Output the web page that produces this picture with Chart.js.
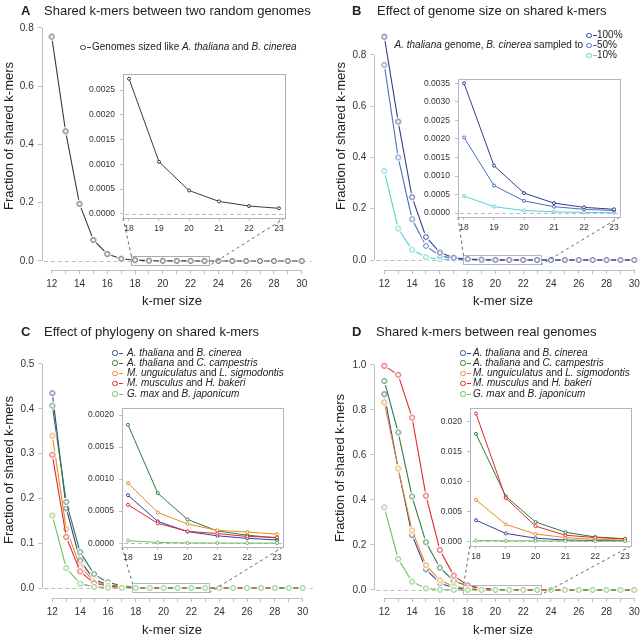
<!DOCTYPE html>
<html>
<head>
<meta charset="utf-8">
<script src="https://cdn.jsdelivr.net/npm/chart.js@4"></script>
<style>
  body { margin: 0; background: #fff; }
  #page { position: relative; width: 642px; height: 636px; overflow: hidden;
          font-family: "Liberation Sans", Arial, sans-serif; color: #222; }
  canvas { position: absolute; }
  .t { position: absolute; white-space: nowrap; font-size: 13px; line-height: 13px; }
  .ytitle { transform: translate(-50%, -50%) rotate(-90deg); }
  .xtitle { transform: translate(-50%, -50%); }
  .lg { position: absolute; white-space: nowrap; font-size: 10px; line-height: 10px; }
  .mk { position: absolute; width: 11px; height: 6px; }
  .mk::before { content: ""; position: absolute; left: 0; top: 0; width: 3.5px; height: 3.5px;
                border: 1px solid currentColor; border-radius: 50%; }
  .mk::after { content: ""; position: absolute; left: 6.5px; top: 2.5px; width: 4px; height: 1px;
               background: currentColor; }
</style>
</head>
<body>
<div id="page">
  <canvas id="mainA"></canvas>
  <canvas id="mainB"></canvas>
  <canvas id="mainC"></canvas>
  <canvas id="mainD"></canvas>
  <canvas id="insetA"></canvas>
  <canvas id="insetB"></canvas>
  <canvas id="insetC"></canvas>
  <canvas id="insetD"></canvas>

  <div class="t" style="left:21px;top:3.5px"><b>A</b></div>
  <div class="t" style="left:44px;top:3.5px">Shared k-mers between two random genomes</div>
  <div class="t" style="left:352px;top:3.5px"><b>B</b></div>
  <div class="t" style="left:377px;top:3.5px">Effect of genome size on shared k-mers</div>
  <div class="t" style="left:21px;top:325px"><b>C</b></div>
  <div class="t" style="left:44px;top:325px">Effect of phylogeny on shared k-mers</div>
  <div class="t" style="left:352px;top:325px"><b>D</b></div>
  <div class="t" style="left:376px;top:325px">Shared k-mers between real genomes</div>

  <div class="t ytitle" style="left:8px;top:136px">Fraction of shared k-mers</div>
  <div class="t ytitle" style="left:340px;top:136px">Fraction of shared k-mers</div>
  <div class="t ytitle" style="left:8px;top:470px">Fraction of shared k-mers</div>
  <div class="t ytitle" style="left:339px;top:468px">Fraction of shared k-mers</div>

  <div class="t xtitle" style="left:172px;top:300px">k-mer size</div>
  <div class="t xtitle" style="left:503px;top:300px">k-mer size</div>
  <div class="t xtitle" style="left:172px;top:629px">k-mer size</div>
  <div class="t xtitle" style="left:503px;top:629px">k-mer size</div>
</div>

<script>
// =====================
// DATA
// =====================
const kSizes = [12, 13, 14, 15, 16, 17, 18, 19, 20, 21, 22, 23, 24, 25, 26, 27, 28, 29, 30];
const kZoom = [18, 19, 20, 21, 22, 23];

// A - random genomes
const randomLabel = "Genomes sized like <i>A. thaliana</i> and <i>B. cinerea</i>";
const randomGenomes = [0.770, 0.445, 0.196, 0.072, 0.024, 0.0078, 0.00273, 0.00105, 0.00047, 0.00025, 0.000156, 0.00011,
  0.00008, 0.00006, 0.00005, 0.00004, 0.00003, 0.00003, 0.00002];

// B - B. cinerea subsampled
const sampledNote = "<i>A. thaliana</i> genome, <i>B. cinerea</i> sampled to";
const sampledLabels = ["100%", "50%", "10%"];
const sampled100 = [0.871, 0.540, 0.245, 0.090, 0.029, 0.009, 0.0035, 0.00128, 0.00054, 0.00027, 0.000156, 0.000104,
  0.00007, 0.00005, 0.00004, 0.00003, 0.00002, 0.00002, 0.00001];
const sampled50 = [0.761, 0.400, 0.159, 0.055, 0.017, 0.0055, 0.00204, 0.000744, 0.00033, 0.000174, 0.000104, 0.00007,
  0.00005, 0.00004, 0.00003, 0.00002, 0.00002, 0.00001, 0.00001];
const sampled10 = [0.347, 0.123, 0.040, 0.011, 0.0035, 0.0012, 0.00046, 0.000174, 0.00007, 0.000035, 0.00002, 0.00001,
  0.00001, 0.00001, 0.000005, 0.000005, 0.000005, 0.000005, 0.000005];

// C / D - genome pairs
const pairLabels = [
  "<i>A. thaliana</i> and <i>B. cinerea</i>",
  "<i>A. thaliana</i> and <i>C. campestris</i>",
  "<i>M. unguiculatus</i> and <i>L. sigmodontis</i>",
  "<i>M. musculus</i> and <i>H. bakeri</i>",
  "<i>G. max</i> and <i>B. japonicum</i>"
];
const phyloBcin = [0.435, 0.178, 0.061, 0.019, 0.0072, 0.0028, 0.00075, 0.00034, 0.00018, 0.000115, 0.000075, 0.00005,
  0.00004, 0.00003, 0.00002, 0.00002, 0.00001, 0.00001, 0.00001];
const phyloCcam = [0.407, 0.192, 0.080, 0.031, 0.0126, 0.005, 0.00185, 0.00078, 0.00037, 0.00019, 0.000125, 0.00008,
  0.00006, 0.00004, 0.00003, 0.00003, 0.00002, 0.00002, 0.00001];
const phyloLsig = [0.340, 0.132, 0.048, 0.015, 0.006, 0.0025, 0.00094, 0.00048, 0.0003, 0.0002, 0.000175, 0.00014,
  0.00012, 0.0001, 0.00009, 0.00008, 0.00007, 0.00006, 0.00005];
const phyloHbak = [0.297, 0.114, 0.037, 0.011, 0.0045, 0.0016, 0.0006, 0.00031, 0.000185, 0.00015, 0.000105, 0.00009,
  0.00007, 0.00006, 0.00005, 0.00004, 0.00004, 0.00003, 0.00003];
const phyloBjap = [0.162, 0.0446, 0.0097, 0.0026, 0.0008, 0.0002, 0.00004, 0.00001, 0.000003, 0.000002, 0.000001, 0.000001,
  0, 0, 0, 0, 0, 0, 0];

const realBcin = [0.870, 0.540, 0.244, 0.092, 0.030, 0.010, 0.0035, 0.0013, 0.0005, 0.0002, 0.0001, 0.0001,
  0.00005, 0.00004, 0.00003, 0.00002, 0.00002, 0.00001, 0.00001];
const realCcam = [0.929, 0.700, 0.415, 0.212, 0.099, 0.040, 0.0179, 0.0075, 0.0032, 0.0015, 0.0007, 0.0004,
  0.0002, 0.00015, 0.0001, 0.00008, 0.00006, 0.00005, 0.00004];
const realLsig = [0.834, 0.540, 0.264, 0.110, 0.043, 0.016, 0.0069, 0.0028, 0.0012, 0.0006, 0.0003, 0.0002,
  0.00015, 0.0001, 0.00008, 0.00006, 0.00005, 0.00004, 0.00003];
const realHbak = [0.996, 0.956, 0.766, 0.419, 0.178, 0.064, 0.0213, 0.0072, 0.0025, 0.001, 0.0006, 0.0004,
  0.0003, 0.0002, 0.00015, 0.0001, 0.00008, 0.00006, 0.00005];
const realBjap = [0.367, 0.138, 0.037, 0.007, 0.0015, 0.0004, 0.0001, 0.00007, 0.00005, 0.00004, 0.00003, 0.00003,
  0.00002, 0.00002, 0.00001, 0.00001, 0.00001, 0.00001, 0.00001];

// =====================
// STYLE
// =====================
const FONT = "Liberation Sans";
const purple = "#4d2d52";
const sampledColors = ["#383a8c", "#4c6dc2", "#5dcfcc"];
const pairColors = ["#3b3d9c", "#2e7c40", "#e3901f", "#e1282c", "#6cbf5e"];
const axisGray = "#bfbfbf";
const zeroGray = "#bdbdbd";
const zoomFrom = 17.7, zoomTo = 23.3;

// R style axes, dashed zero line, inset frame
const framePlugin = {
  id: "frame",
  beforeDraw(chart, args, opts) {
    if (!opts.box) return;
    const { ctx, chartArea: a } = chart;
    ctx.save();
    ctx.fillStyle = "#fff";
    ctx.fillRect(a.left, a.top, a.width, a.height);
    ctx.restore();
  },
  beforeDatasetsDraw(chart, args, opts) {
    const { ctx, chartArea: a, scales: { x, y } } = chart;
    const y0 = Math.round(y.getPixelForValue(0)) + 0.5;
    ctx.save();
    ctx.lineWidth = 1;
    ctx.strokeStyle = zeroGray;
    ctx.setLineDash([4, 3]);
    ctx.beginPath();
    ctx.moveTo(a.left + 2, y0);
    ctx.lineTo(a.right, y0);
    ctx.stroke();
    ctx.setLineDash([]);
    if (!opts.box) {
      const xt = x.ticks, yt = y.ticks;
      const by = Math.round(a.bottom) + 0.5, lx = Math.round(a.left) + 0.5;
      ctx.strokeStyle = axisGray;
      ctx.beginPath();
      ctx.moveTo(x.getPixelForValue(xt[0].value), by);
      ctx.lineTo(x.getPixelForValue(xt[xt.length - 1].value), by);
      ctx.moveTo(lx, y.getPixelForValue(yt[0].value));
      ctx.lineTo(lx, y.getPixelForValue(yt[yt.length - 1].value));
      ctx.stroke();
    }
    ctx.restore();
  },
  afterDatasetsDraw(chart, args, opts) {
    if (!opts.box) return;
    const { ctx, chartArea: a } = chart;
    ctx.save();
    ctx.strokeStyle = opts.color;
    ctx.lineWidth = 1;
    ctx.strokeRect(Math.round(a.left) + 0.5, Math.round(a.top) + 0.5, Math.round(a.width), Math.round(a.height));
    ctx.restore();
  }
};
Chart.register(framePlugin);

// open circle with a white halo (R type="b" look)
function makeRing(color) {
  const c = document.createElement("canvas");
  c.width = c.height = 12;
  const g = c.getContext("2d");
  g.fillStyle = "#fff";
  g.beginPath(); g.arc(6, 6, 4.2, 0, 2 * Math.PI); g.fill();
  g.strokeStyle = color; g.lineWidth = 0.9;
  g.beginPath(); g.arc(6, 6, 2.4, 0, 2 * Math.PI); g.stroke();
  return c;
}

function tickFont(size) {
  return { family: FONT, size: size };
}

// =====================
// INSETS
// =====================
function makeInset(id, box, seriesList, colors, lastOnTop, y, frameColor) {
  const cv = document.getElementById(id);
  cv.width = box.R - box.L + 49;
  cv.height = box.B - box.T + 24;
  cv.style.left = (box.L - 45) + "px";
  cv.style.top = (box.T - 4) + "px";
  const datasets = seriesList.map((vals, i) => ({
    data: kZoom.map(k => ({ x: k, y: vals[kSizes.indexOf(k)] })),
    borderColor: colors[i], borderWidth: 1,
    pointRadius: 1.5, pointBorderWidth: 1, pointBorderColor: colors[i], pointBackgroundColor: "#fff",
    order: lastOnTop ? seriesList.length - i : i
  }));
  const chart = new Chart(cv, {
    type: "line",
    data: { datasets },
    options: {
      responsive: false, animation: false, events: [], devicePixelRatio: 1,
      layout: { padding: { left: 0, top: 4, right: 4, bottom: 0 } },
      plugins: { legend: { display: false }, tooltip: { enabled: false }, frame: { box: true, color: frameColor } },
      scales: {
        x: {
          type: "linear", min: 17.8, max: 23.2,
          afterFit: s => { s.height = 20; },
          grid: { drawOnChartArea: false, tickLength: 3, color: axisGray }, border: { display: false },
          ticks: { stepSize: 1, autoSkip: false, includeBounds: false, maxRotation: 0, padding: 3,
                   color: "#333", font: tickFont(8.5) }
        },
        y: {
          type: "linear", min: y.min, max: y.max,
          afterFit: s => { s.width = 45; },
          grid: { drawOnChartArea: false, tickLength: 3, color: axisGray }, border: { display: false },
          ticks: { stepSize: y.step, includeBounds: false, padding: 5, color: "#333", font: tickFont(8.5),
                   callback: v => v.toFixed(y.digits) }
        }
      }
    }
  });
  return { chart, left: box.L - 45, top: box.T - 4 };
}

// =====================
// MAIN PANELS
// =====================
function zoomLink(inset, dx, dy, color) {
  return {
    id: "zoomLink",
    afterDatasetsDraw(chart) {
      const { ctx, scales: { x, y } } = chart;
      const x0 = Math.round(x.getPixelForValue(zoomFrom)) + 0.5;
      const x1 = Math.round(x.getPixelForValue(zoomTo)) + 0.5;
      const yz = Math.round(y.getPixelForValue(0));
      const top = yz - 4.5, bot = yz + 4.5;
      const a = inset.chart.chartArea;
      ctx.save();
      ctx.lineWidth = 1;
      ctx.strokeStyle = color;
      ctx.strokeRect(x0, top, x1 - x0, bot - top);
      ctx.strokeStyle = "#666";
      ctx.setLineDash([3, 3]);
      ctx.beginPath();
      ctx.moveTo(a.left + dx, a.bottom + dy);
      ctx.lineTo(x0, top);
      ctx.moveTo(a.right + dx, a.bottom + dy);
      ctx.lineTo(x1, bot);
      ctx.stroke();
      ctx.restore();
    }
  };
}

function makeMain(id, lay, seriesList, colors, lastOnTop, inset, zoomColor) {
  const cv = document.getElementById(id);
  cv.width = lay.W;
  cv.height = 318;
  cv.style.left = lay.x + "px";
  cv.style.top = lay.y + "px";
  const datasets = seriesList.map((vals, i) => ({
    data: kSizes.map((k, j) => ({ x: k, y: vals[j] })),
    borderColor: colors[i], borderWidth: 1.1,
    pointStyle: makeRing(colors[i]), pointRadius: 3,
    order: lastOnTop ? seriesList.length - i : i
  }));
  return new Chart(cv, {
    type: "line",
    data: { datasets },
    options: {
      responsive: false, animation: false, events: [], devicePixelRatio: 1,
      layout: { padding: { left: 0, top: lay.T, right: lay.W - lay.R, bottom: 0 } },
      plugins: { legend: { display: false }, tooltip: { enabled: false }, frame: { box: false } },
      scales: {
        x: {
          type: "linear", min: 11.28, max: 30.72,
          afterFit: s => { s.height = 318 - lay.B; },
          grid: { drawOnChartArea: false, tickLength: 4, color: axisGray }, border: { display: false },
          ticks: { stepSize: 1, autoSkip: false, includeBounds: false, maxRotation: 0, padding: 4,
                   color: "#333", font: tickFont(10), callback: v => (v % 2 === 0 ? String(v) : "") }
        },
        y: {
          type: "linear", min: lay.ymin, max: lay.ymax,
          afterFit: s => { s.width = lay.L; },
          grid: { drawOnChartArea: false, tickLength: 4, color: axisGray }, border: { display: false },
          ticks: { stepSize: lay.step, includeBounds: false, padding: 4, color: "#333", font: tickFont(10),
                   callback: v => v.toFixed(1) }
        }
      }
    },
    plugins: [zoomLink(inset, inset.left - lay.x, inset.top - lay.y, zoomColor)]
  });
}

// =====================
// LEGENDS
// =====================
const page = document.getElementById("page");
function legendRow(html, color, mx, tx, cy) {
  const mk = document.createElement("span");
  mk.className = "mk";
  mk.style.color = color;
  mk.style.left = mx + "px";
  mk.style.top = (cy - 2.5) + "px";
  page.appendChild(mk);
  const t = document.createElement("span");
  t.className = "lg";
  t.innerHTML = html;
  t.style.left = tx + "px";
  t.style.top = (cy - 5) + "px";
  page.appendChild(t);
}

// =====================
// BUILD
// =====================
const lavender = "#b3b3d1";

const insetA = makeInset("insetA", { L: 123, T: 68, R: 286, B: 218 }, [randomGenomes], [purple], false,
  { min: -0.000086, max: 0.002824, step: 0.0005, digits: 4 }, "#b0b0b0");
makeMain("mainA", { x: 0, y: 0, W: 321, L: 41.7, R: 311.7, T: 27, B: 270, ymin: -0.031, ymax: 0.803, step: 0.2 },
  [randomGenomes], [purple], false, insetA, "#aaaaaa");

const insetB = makeInset("insetB", { L: 458, T: 73, R: 621, B: 217 }, [sampled100, sampled50, sampled10], sampledColors, false,
  { min: -0.000104, max: 0.003613, step: 0.0005, digits: 4 }, lavender);
makeMain("mainB", { x: 321, y: 0, W: 330, L: 53.3, R: 323.3, T: 28, B: 270, ymin: -0.039, ymax: 0.905, step: 0.2 },
  [sampled100, sampled50, sampled10], sampledColors, false, insetB, lavender);

const insetC = makeInset("insetC", { L: 122, T: 402, R: 284, B: 547 },
  [phyloBcin, phyloCcam, phyloLsig, phyloHbak, phyloBjap], pairColors, true,
  { min: -0.00006, max: 0.00211, step: 0.0005, digits: 4 }, lavender);
makeMain("mainC", { x: 0, y: 318, W: 321, L: 42.3, R: 312.7, T: 37, B: 280, ymin: -0.0223, ymax: 0.52, step: 0.1 },
  [phyloBcin, phyloCcam, phyloLsig, phyloHbak, phyloBjap], pairColors, true, insetC, lavender);

const insetD = makeInset("insetD", { L: 470, T: 402, R: 632, B: 546 },
  [realBcin, realCcam, realLsig, realHbak, realBjap], pairColors, true,
  { min: -0.0008, max: 0.0222, step: 0.005, digits: 3 }, lavender);
makeMain("mainD", { x: 321, y: 318, W: 330, L: 53.3, R: 323.3, T: 38, B: 280, ymin: -0.0356, ymax: 1.04, step: 0.2 },
  [realBcin, realCcam, realLsig, realHbak, realBjap], pairColors, true, insetD, lavender);

// legend A
legendRow(randomLabel, purple, 80, 92, 47);

// legend B
sampledLabels.forEach((lab, i) => legendRow(lab, sampledColors[i], 586, 597, 35 + i * 10));
const note = document.createElement("span");
note.className = "lg";
note.innerHTML = sampledNote;
note.style.right = (642 - 583) + "px";
note.style.top = "40px";
page.appendChild(note);

// legends C and D
pairLabels.forEach((lab, i) => {
  legendRow(lab, pairColors[i], 112, 127, 352.5 + i * 10.25);
  legendRow(lab, pairColors[i], 460, 473, 352.5 + i * 10.25);
});
</script>
</body>
</html>
